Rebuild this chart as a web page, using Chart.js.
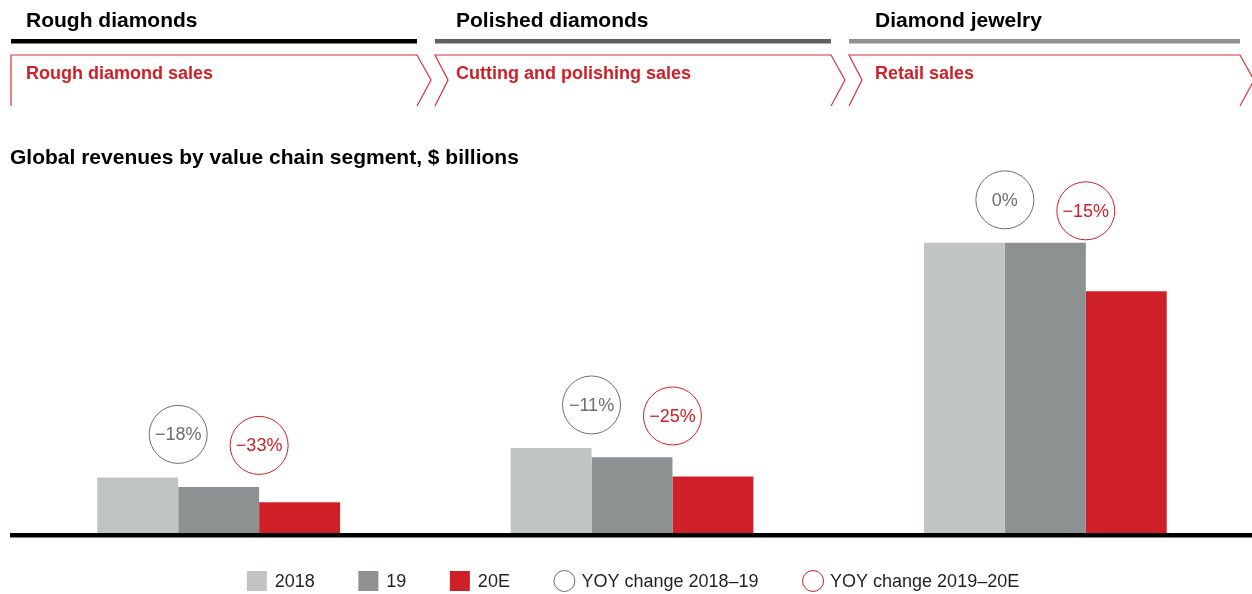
<!DOCTYPE html>
<html>
<head>
<meta charset="utf-8">
<title>Global diamond revenues</title>
<script src="https://cdn.jsdelivr.net/npm/chart.js@4.4.1/dist/chart.umd.min.js"></script>
<style>
  html, body { margin: 0; padding: 0; background: #fff; }
  #wrap { width: 1252px; height: 594px; position: relative; }
</style>
</head>
<body>
<div id="wrap"><canvas id="chart"></canvas></div>
<script>
// data
const segments = ['Rough diamonds', 'Polished diamonds', 'Diamond jewelry'];
const stages = ['Rough diamond sales', 'Cutting and polishing sales', 'Retail sales'];
const years = ['2018', '19', '20E'];
const sales2018 = [13.8, 21.1, 72];
const sales2019 = [11.4, 18.8, 72];
const sales2020 = [7.6, 14.0, 60];
const yoy1819 = ['\u221218%', '\u221211%', '0%'];
const yoy1920 = ['\u221233%', '\u221225%', '\u221215%'];
const yoyLabels = ['YOY change 2018\u201319', 'YOY change 2019\u201320E'];

const FONT = '"Liberation Sans", Arial, Helvetica, sans-serif';
const RED = '#cf2027';
const GREY_TXT = '#6d6e70';
const barColors = ['#c1c4c5', '#8e9192', RED];

// header bands: rule x range, text x, chevron x range
const bands = [
  { x0: 11, x1: 417, tx: 26, rule: '#000000', notch: false },
  { x0: 435, x1: 831, tx: 456, rule: '#5e6163', notch: true },
  { x0: 849, x1: 1240, tx: 875, rule: '#8e9192', notch: true }
];

const decor = {
  id: 'decor',
  afterDraw(chart) {
    const ctx = chart.ctx;
    const area = chart.chartArea;
    ctx.save();

    // header
    bands.forEach((b, i) => {
      ctx.fillStyle = '#000';
      ctx.font = 'bold 21px ' + FONT;
      ctx.textBaseline = 'alphabetic';
      ctx.textAlign = 'left';
      ctx.fillText(segments[i], b.tx, 27);

      ctx.fillStyle = b.rule;
      ctx.fillRect(b.x0, 39, (i === 0 ? 406 : b.x1 - b.x0), 4.5);

      ctx.strokeStyle = '#d4333a';
      ctx.lineWidth = 1.2;
      ctx.beginPath();
      if (b.notch) {
        ctx.moveTo(b.x0, 106);
        ctx.lineTo(b.x0 + 13, 80);
        ctx.lineTo(b.x0, 55);
      } else {
        ctx.moveTo(b.x0, 106);
        ctx.lineTo(b.x0, 55);
      }
      ctx.lineTo(b.x1, 55);
      ctx.lineTo(b.x1 + 14, 80);
      ctx.lineTo(b.x1, 106);
      ctx.stroke();

      ctx.fillStyle = RED;
      ctx.font = 'bold 18px ' + FONT;
      ctx.fillText(stages[i], b.tx, 78.5);
    });

    // chart title
    ctx.fillStyle = '#000';
    ctx.font = 'bold 21px ' + FONT;
    ctx.fillText('Global revenues by value chain segment, $ billions', 10, 164);

    // baseline
    ctx.fillStyle = '#000';
    ctx.fillRect(10, area.bottom, 1242, 4.5);

    // YOY circles, placed from the bar elements
    const m0 = chart.getDatasetMeta(0).data;
    const m1 = chart.getDatasetMeta(1).data;
    ctx.font = '18px ' + FONT;
    ctx.textAlign = 'center';
    ctx.textBaseline = 'middle';
    ctx.lineWidth = 1;
    m0.forEach((bar, i) => {
      const cx1 = bar.x + bar.width / 2;
      const cy1 = bar.y - 43;
      const cx2 = m1[i].x + m1[i].width / 2;
      const cy2 = cy1 + 11;
      ctx.strokeStyle = GREY_TXT;
      ctx.beginPath();
      ctx.arc(cx1, cy1, 29, 0, Math.PI * 2);
      ctx.stroke();
      ctx.fillStyle = GREY_TXT;
      ctx.fillText(yoy1819[i], cx1, cy1 + 1);

      ctx.strokeStyle = RED;
      ctx.beginPath();
      ctx.arc(cx2, cy2, 29, 0, Math.PI * 2);
      ctx.stroke();
      ctx.fillStyle = RED;
      ctx.fillText(yoy1920[i], cx2, cy2 + 1);
    });

    // legend
    ctx.font = '18px ' + FONT;
    ctx.textAlign = 'left';
    const items = years.map((y, i) => ({ text: y, kind: 'box', color: barColors[i] }))
      .concat(yoyLabels.map((t, i) => ({ text: t, kind: 'ring', color: i ? RED : GREY_TXT })));
    const gap = 43.5;
    let total = 0;
    items.forEach((it, i) => {
      it.w = 28 + ctx.measureText(it.text).width;
      total += it.w + (i ? gap : 0);
    });
    let x = 633 - total / 2;
    const ly = 581;
    items.forEach(it => {
      if (it.kind === 'box') {
        ctx.fillStyle = it.color;
        ctx.fillRect(x, ly - 10, 20, 20);
      } else {
        ctx.strokeStyle = it.color;
        ctx.beginPath();
        ctx.arc(x + 11, ly, 10.5, 0, Math.PI * 2);
        ctx.stroke();
      }
      ctx.fillStyle = '#231f20';
      ctx.fillText(it.text, x + 28, ly + 1);
      x += it.w + gap;
    });

    ctx.restore();
  }
};

new Chart(document.getElementById('chart'), {
  type: 'bar',
  data: {
    labels: stages,
    datasets: [
      { label: years[0], data: sales2018, backgroundColor: barColors[0] },
      { label: years[1], data: sales2019, backgroundColor: barColors[1] },
      { label: years[2], data: sales2020, backgroundColor: barColors[2] }
    ]
  },
  options: {
    responsive: true,
    maintainAspectRatio: false,
    animation: false,
    layout: { padding: { top: 130, bottom: 61, left: 12, right: -1 } },
    datasets: {
      bar: { barPercentage: 1, categoryPercentage: 0.5874, borderWidth: 0 }
    },
    scales: {
      x: { display: false },
      y: { display: false, min: 0, max: 100 }
    },
    plugins: {
      legend: { display: false },
      tooltip: { enabled: false }
    }
  },
  plugins: [decor]
});
</script>
</body>
</html>
